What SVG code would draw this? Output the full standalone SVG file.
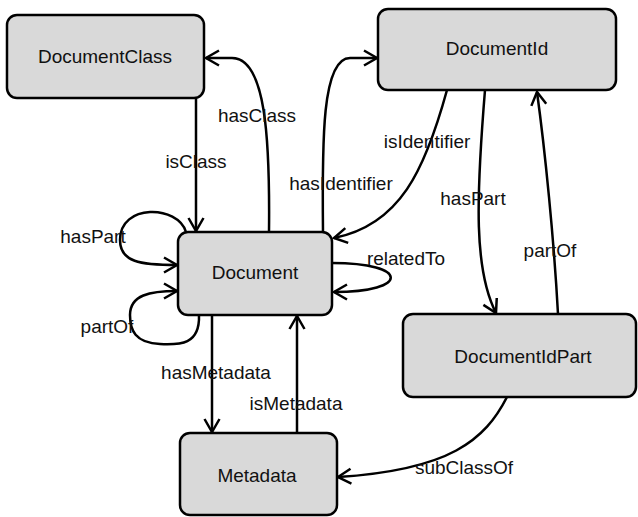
<svg xmlns="http://www.w3.org/2000/svg" width="638" height="517" viewBox="0 0 638 517">
<style>
.node rect{fill:#d9d9d9;stroke:#000;stroke-width:2.5}
.node text{font-family:"Liberation Sans",Arial,sans-serif;font-size:19px;fill:#111;text-anchor:middle}
.edge{fill:none;stroke:#000;stroke-width:2.5;marker-end:url(#arr)}
.lbl{font-family:"Liberation Sans",Arial,sans-serif;font-size:19px;fill:#111}
</style>
<defs>
<marker id="arr" markerUnits="userSpaceOnUse" markerWidth="30" markerHeight="30" viewBox="-15 -15 30 30" refX="0" refY="0" orient="auto">
<path d="M-13,-7.5 L0,0 L-13,7.5" fill="none" stroke="#000" stroke-width="2.5"/>
</marker>
</defs>
<rect width="638" height="517" fill="#fff"/>
<g id="connectors">
<path class="edge" d="M196,98 L196,231"/>
<path class="edge" d="M269,232 C270,140 266,58 232,58 L206,58"/>
<path class="edge" d="M323,232 C322,140 322,58 350,58 L377,58"/>
<path class="edge" d="M447,90 C425,170 400,225 334,238"/>
<path class="edge" d="M485,90 C476,200 474,270 496,313"/>
<path class="edge" d="M558,314 C554,240 545,150 537,92"/>
<path class="edge" d="M332,263 C410,263 410,292 334,292"/>
<path class="edge" d="M186,232 C178,205 120,203 120,240 C120,262 140,265 177,265"/>
<path class="edge" d="M199,315 C200,345 180,345 160,344 C135,343 130,330 130,315 C130,295 150,291 177,291"/>
<path class="edge" d="M212,315 L212,432"/>
<path class="edge" d="M297,433 L297,316"/>
<path class="edge" d="M507,397 C485,440 450,470 338,477"/>
<text class="lbl" x="196" y="168" text-anchor="middle">isClass</text>
<text class="lbl" x="257" y="122" text-anchor="middle">hasClass</text>
<text class="lbl" x="341" y="190" text-anchor="middle">hasIdentifier</text>
<text class="lbl" x="427" y="148" text-anchor="middle">isIdentifier</text>
<text class="lbl" x="473" y="205" text-anchor="middle">hasPart</text>
<text class="lbl" x="550" y="257" text-anchor="middle">partOf</text>
<text class="lbl" x="406" y="265" text-anchor="middle">relatedTo</text>
<text class="lbl" x="93" y="243" text-anchor="middle">hasPart</text>
<text class="lbl" x="107" y="333" text-anchor="middle">partOf</text>
<text class="lbl" x="216" y="379" text-anchor="middle">hasMetadata</text>
<text class="lbl" x="296" y="410" text-anchor="middle">isMetadata</text>
<text class="lbl" x="464" y="474" text-anchor="middle">subClassOf</text>
</g>
<g id="DocumentClass" class="node"><rect x="7" y="15" width="197" height="83" rx="10"/><text x="105" y="63">DocumentClass</text></g>
<g id="DocumentId" class="node"><rect x="378" y="9" width="238" height="81" rx="10"/><text x="497" y="55">DocumentId</text></g>
<g id="Document" class="node"><rect x="178" y="232" width="154" height="83" rx="10"/><text x="255" y="279">Document</text></g>
<g id="DocumentIdPart" class="node"><rect x="403" y="314" width="233" height="83" rx="10"/><text x="523" y="363">DocumentIdPart</text></g>
<g id="Metadata" class="node"><rect x="180" y="433" width="157" height="82" rx="10"/><text x="257" y="482">Metadata</text></g>
</svg>
